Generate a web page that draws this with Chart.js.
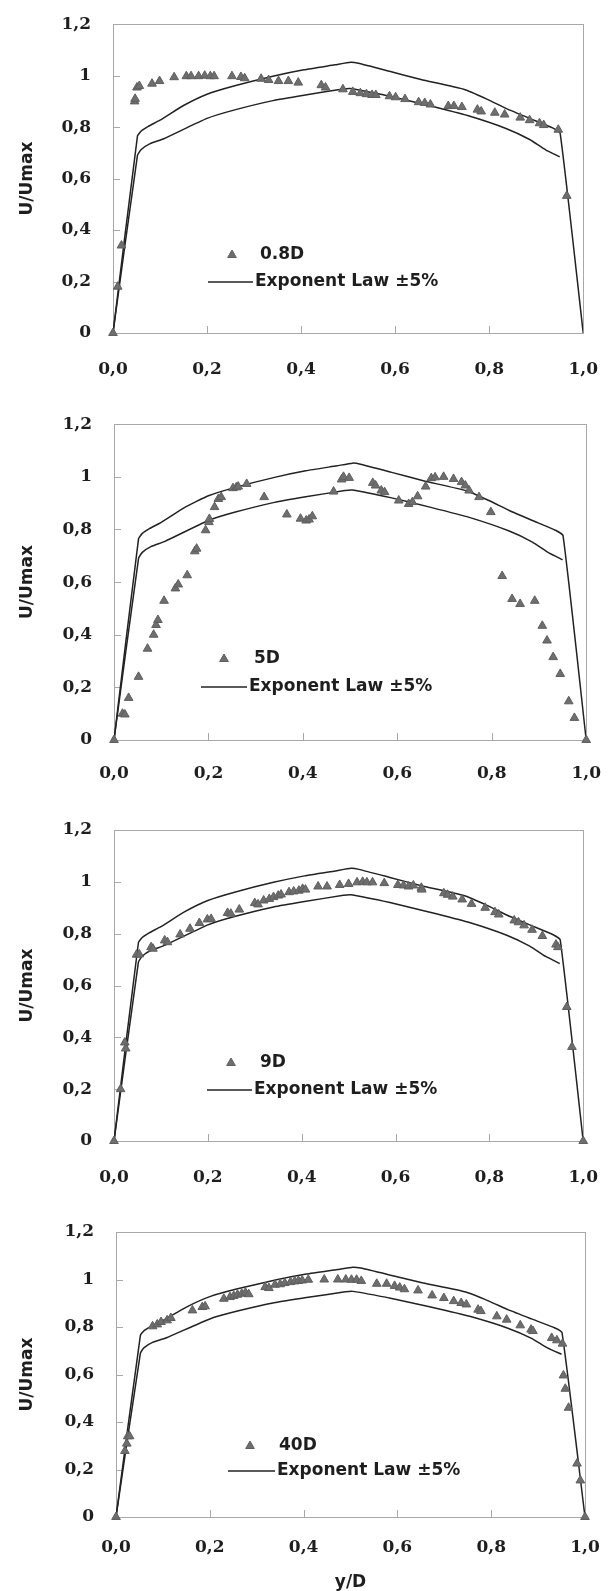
<!DOCTYPE html>
<html>
<head>
<meta charset="utf-8">
<script src="https://cdn.jsdelivr.net/npm/chart.js@4/dist/chart.umd.min.js"></script>
<style>
  body { margin: 0; background: #fff; width: 616px; height: 1591px; overflow: hidden; position: relative; }
  canvas { position: absolute; left: 0; }
</style>
</head>
<body>
<canvas id="c1" width="616" height="400" style="top:0px"></canvas>
<canvas id="c2" width="616" height="400" style="top:400px"></canvas>
<canvas id="c3" width="616" height="400" style="top:800px"></canvas>
<canvas id="c4" width="616" height="391" style="top:1200px"></canvas>
<script>
// tick labels
var xTickLabels = ['0,0', '0,2', '0,4', '0,6', '0,8', '1,0'];
var yTickLabels = ['0', '0,2', '0,4', '0,6', '0,8', '1', '1,2'];

// exponent law +5% / -5%
var lawUpX = [0, 0.052, 0.06, 0.075, 0.1, 0.15, 0.2, 0.257, 0.34, 0.406, 0.472, 0.505, 0.522, 0.588, 0.655, 0.746, 0.795, 0.837, 0.886, 0.936, 0.951, 1.0];
var lawUp  = [0, 0.765, 0.785, 0.803, 0.827, 0.884, 0.928, 0.96, 0.998, 1.023, 1.042, 1.052, 1.048, 1.017, 0.985, 0.947, 0.909, 0.872, 0.834, 0.796, 0.776, 0];
var lawLowX = [0, 0.052, 0.06, 0.078, 0.108, 0.2, 0.257, 0.34, 0.406, 0.489, 0.505, 0.588, 0.671, 0.754, 0.837, 0.886, 0.92, 0.95];
var lawLow  = [0, 0.69, 0.713, 0.735, 0.755, 0.834, 0.866, 0.903, 0.924, 0.948, 0.95, 0.92, 0.884, 0.845, 0.794, 0.752, 0.712, 0.685];

// 0.8D
var x08 = [0, 0.01, 0.018, 0.046, 0.047, 0.051, 0.056, 0.083, 0.099, 0.13, 0.156, 0.166, 0.182, 0.195, 0.207, 0.215, 0.253, 0.272, 0.28, 0.315, 0.331, 0.352, 0.373, 0.394, 0.443, 0.452, 0.489, 0.51, 0.526, 0.539, 0.551, 0.559, 0.588, 0.601, 0.621, 0.65, 0.663, 0.675, 0.713, 0.725, 0.742, 0.775, 0.783, 0.812, 0.833, 0.866, 0.886, 0.907, 0.916, 0.947, 0.965];
var u08 = [0, 0.18, 0.34, 0.9, 0.91, 0.954, 0.96, 0.969, 0.979, 0.994, 0.998, 0.998, 0.998, 1.0, 0.998, 0.998, 0.998, 0.995, 0.99, 0.988, 0.983, 0.979, 0.979, 0.973, 0.963, 0.954, 0.947, 0.937, 0.932, 0.928, 0.925, 0.925, 0.92, 0.916, 0.909, 0.897, 0.894, 0.888, 0.882, 0.882, 0.878, 0.868, 0.861, 0.856, 0.849, 0.837, 0.827, 0.815, 0.808, 0.79, 0.533];

// 5D
var x5 = [0, 0.018, 0.023, 0.031, 0.052, 0.071, 0.084, 0.089, 0.093, 0.106, 0.13, 0.136, 0.155, 0.171, 0.175, 0.194, 0.201, 0.202, 0.213, 0.221, 0.227, 0.252, 0.259, 0.263, 0.281, 0.318, 0.366, 0.395, 0.407, 0.413, 0.42, 0.465, 0.482, 0.486, 0.498, 0.548, 0.554, 0.566, 0.573, 0.603, 0.624, 0.632, 0.643, 0.66, 0.672, 0.68, 0.698, 0.719, 0.736, 0.744, 0.752, 0.773, 0.798, 0.822, 0.843, 0.86, 0.891, 0.907, 0.917, 0.93, 0.945, 0.963, 0.975, 1.0];
var u5 = [0, 0.1, 0.097, 0.16, 0.24, 0.347, 0.4, 0.437, 0.456, 0.529, 0.576, 0.591, 0.626, 0.717, 0.727, 0.797, 0.828, 0.84, 0.885, 0.916, 0.923, 0.957, 0.96, 0.963, 0.973, 0.923, 0.857, 0.841, 0.834, 0.838, 0.85, 0.944, 0.99, 1.0, 0.996, 0.977, 0.967, 0.948, 0.942, 0.91, 0.897, 0.904, 0.926, 0.963, 0.995, 0.998, 1.0, 0.992, 0.98, 0.967, 0.948, 0.923, 0.866, 0.623, 0.536, 0.517, 0.529, 0.434, 0.378, 0.315, 0.251, 0.147, 0.084, 0];

// 9D
var x9 = [0, 0.014, 0.023, 0.025, 0.048, 0.054, 0.079, 0.083, 0.108, 0.114, 0.141, 0.162, 0.182, 0.199, 0.207, 0.242, 0.249, 0.267, 0.3, 0.307, 0.319, 0.331, 0.34, 0.35, 0.356, 0.373, 0.383, 0.394, 0.402, 0.408, 0.435, 0.454, 0.481, 0.5, 0.518, 0.53, 0.539, 0.551, 0.576, 0.605, 0.617, 0.628, 0.638, 0.655, 0.656, 0.703, 0.711, 0.722, 0.742, 0.762, 0.791, 0.812, 0.82, 0.853, 0.862, 0.874, 0.891, 0.913, 0.942, 0.946, 0.965, 0.976, 1.0];
var u9 = [0, 0.2, 0.38, 0.357, 0.719, 0.72, 0.748, 0.742, 0.774, 0.767, 0.797, 0.819, 0.841, 0.855, 0.857, 0.88, 0.877, 0.893, 0.918, 0.913, 0.928, 0.934, 0.941, 0.947, 0.951, 0.96, 0.963, 0.966, 0.973, 0.97, 0.982, 0.982, 0.988, 0.992, 0.998, 1.0, 0.998, 0.998, 0.995, 0.988, 0.986, 0.982, 0.986, 0.977, 0.97, 0.956, 0.95, 0.943, 0.932, 0.915, 0.9, 0.883, 0.874, 0.851, 0.844, 0.832, 0.815, 0.791, 0.758, 0.748, 0.517, 0.363, 0];

// 40D
var x40 = [0, 0.019, 0.023, 0.025, 0.029, 0.078, 0.088, 0.096, 0.109, 0.117, 0.163, 0.184, 0.19, 0.23, 0.243, 0.251, 0.259, 0.268, 0.276, 0.283, 0.318, 0.326, 0.339, 0.35, 0.36, 0.372, 0.381, 0.389, 0.397, 0.41, 0.444, 0.473, 0.49, 0.502, 0.513, 0.523, 0.556, 0.577, 0.594, 0.605, 0.615, 0.644, 0.674, 0.699, 0.72, 0.736, 0.747, 0.772, 0.778, 0.812, 0.833, 0.862, 0.885, 0.889, 0.929, 0.94, 0.952, 0.954, 0.958, 0.965, 0.983, 0.99, 1.0];
var u40 = [0, 0.278, 0.309, 0.34, 0.34, 0.803, 0.811, 0.821, 0.828, 0.838, 0.87, 0.884, 0.887, 0.919, 0.926, 0.931, 0.936, 0.94, 0.945, 0.938, 0.968, 0.964, 0.978, 0.98, 0.985, 0.989, 0.992, 0.994, 0.996, 0.999, 1.0, 1.0, 1.0, 0.999, 0.999, 0.994, 0.982, 0.982, 0.973, 0.966, 0.959, 0.954, 0.933, 0.922, 0.909, 0.901, 0.895, 0.873, 0.867, 0.845, 0.831, 0.807, 0.789, 0.783, 0.754, 0.744, 0.73, 0.596, 0.54, 0.46, 0.225, 0.154, 0];

function pts(xs, ys) {
  return xs.map(function (x, i) { return { x: x, y: ys[i] }; });
}

var frame = {
  id: 'frame',
  beforeDatasetsDraw: function (chart) {
    var ctx = chart.ctx, a = chart.chartArea;
    var xs = chart.scales.x, ys = chart.scales.y;
    ctx.save();
    ctx.strokeStyle = '#a8a8a8';
    ctx.lineWidth = 1;
    ctx.strokeRect(Math.round(a.left) + 0.5, Math.round(a.top) + 0.5, Math.round(a.right - a.left), Math.round(a.bottom - a.top));
    ctx.beginPath();
    xs.ticks.forEach(function (t) {
      var p = Math.round(xs.getPixelForValue(t.value)) + 0.5;
      ctx.moveTo(p, a.bottom); ctx.lineTo(p, a.bottom - 7);
    });
    ys.ticks.forEach(function (t) {
      var p = Math.round(ys.getPixelForValue(t.value)) + 0.5;
      ctx.moveTo(a.left, p); ctx.lineTo(a.left + 7, p);
    });
    ctx.stroke();
    ctx.restore();
  },
  afterDraw: function (chart) {
    var o = chart.options.plugins.frame, ctx = chart.ctx;
    ctx.save();
    ctx.fillStyle = '#6e6e6e';
    ctx.strokeStyle = '#5e5e5e';
    Chart.helpers.drawPoint(ctx, { pointStyle: 'triangle', radius: 5, borderWidth: 1, rotation: 0 }, o.tx, o.ty);
    ctx.strokeStyle = '#222';
    ctx.lineWidth = 1.6;
    ctx.beginPath();
    ctx.moveTo(o.lx1, o.ly); ctx.lineTo(o.lx2, o.ly);
    ctx.stroke();
    ctx.fillStyle = '#1e1e1e';
    ctx.font = 'bold 17px "DejaVu Sans"';
    ctx.textBaseline = 'middle';
    ctx.fillText(o.label, o.textX, o.ty);
    ctx.fillText('Exponent Law \u00b15%', o.lx2 + 2, o.ly);
    ctx.restore();
  }
};

function makeChart(id, label, xs, ys, g) {
  var tickFont = { family: '"DejaVu Serif"', size: 17, weight: 'bold' };
  var titleFont = { family: '"DejaVu Sans"', size: 17, weight: 'bold', lineHeight: 1 };
  return new Chart(document.getElementById(id), {
    type: 'scatter',
    data: {
      datasets: [{
        label: label,
        data: pts(xs, ys),
        pointStyle: 'triangle',
        pointRadius: 5,
        backgroundColor: '#6e6e6e',
        borderColor: '#5e5e5e',
        borderWidth: 1,
        showLine: false,
        clip: false,
        order: 0
      }, {
        label: 'Exponent Law +5%',
        data: pts(lawUpX, lawUp),
        showLine: true,
        pointRadius: 0,
        borderColor: '#222',
        borderWidth: 1.5,
        tension: 0.15,
        order: 1
      }, {
        label: 'Exponent Law -5%',
        data: pts(lawLowX, lawLow),
        showLine: true,
        pointRadius: 0,
        borderColor: '#222',
        borderWidth: 1.5,
        tension: 0.15,
        order: 1
      }]
    },
    options: {
      responsive: false,
      animation: false,
      events: [],
      layout: { padding: { top: g.top, right: g.right, left: 0, bottom: 0 } },
      plugins: {
        legend: { display: false },
        tooltip: { enabled: false },
        frame: g.legend
      },
      scales: {
        x: {
          type: 'linear', min: 0, max: 1,
          grid: { display: false },
          border: { display: false },
          ticks: {
            stepSize: 0.2, padding: g.xPad, color: '#1e1e1e', font: tickFont, maxRotation: 0,
            callback: function (v, i) { return xTickLabels[i]; }
          },
          title: { display: !!g.xTitle, text: g.xTitle || '', color: '#1e1e1e', font: titleFont, padding: { top: 0, bottom: 0 } },
          afterFit: function (s) { s.height = g.xH; }
        },
        y: {
          type: 'linear', min: 0, max: 1.2,
          grid: { display: false },
          border: { display: false },
          ticks: {
            stepSize: 0.2, padding: 14, color: '#1e1e1e', font: tickFont,
            callback: function (v, i) { return yTickLabels[i]; }
          },
          title: { display: true, text: 'U/Umax', color: '#1e1e1e', font: titleFont, padding: { top: 19, bottom: 0 } },
          afterFit: function (s) { s.width = g.left; }
        }
      }
    },
    plugins: [frame]
  });
}

makeChart('c1', '0.8D', x08, u08, {
  top: 17, left: 113, right: 29, xH: 67, xPad: 18,
  legend: { tx: 232, ty: 255, textX: 260, lx1: 208, lx2: 253, ly: 282, label: '0.8D' }
});
makeChart('c2', '5D', x5, u5, {
  top: 22, left: 114, right: 29, xH: 60, xPad: 15,
  legend: { tx: 224, ty: 259, textX: 254, lx1: 201, lx2: 247, ly: 287, label: '5D' }
});
makeChart('c3', '9D', x9, u9, {
  top: 30, left: 114, right: 29, xH: 59, xPad: 18,
  legend: { tx: 231, ty: 263, textX: 260, lx1: 207, lx2: 252, ly: 290, label: '9D' }
});
makeChart('c4', '40D', x40, u40, {
  top: 32, left: 116, right: 31, xH: 74, xPad: 12, xTitle: 'y/D',
  legend: { tx: 250, ty: 246, textX: 279, lx1: 228, lx2: 275, ly: 271, label: '40D' }
});
</script>
</body>
</html>
